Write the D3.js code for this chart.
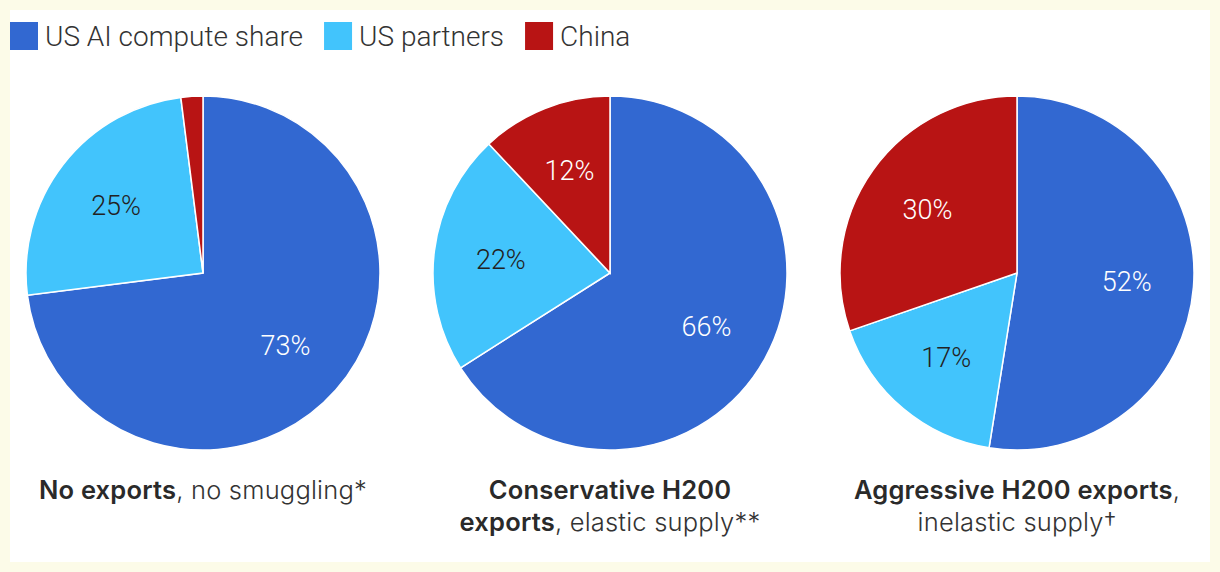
<!DOCTYPE html>
<html>
<head>
<meta charset="utf-8">
<script src="https://cdn.jsdelivr.net/npm/d3@7"></script>
<style>
  html, body { margin: 0; padding: 0; background: #fcfbe8; }
  svg { display: block; }
</style>
</head>
<body>
<svg width="1220" height="572"></svg>
<script>
// series, in drawing order (clockwise from 12 o'clock)
const seriesNames = ["US AI compute share", "US partners", "China"];
const seriesColors = ["#3268d1", "#42c4fc", "#b81414"];

const noExports = [73, 25, 2];
const conservative = [66, 22, 12];
const aggressive = [52, 17, 30];

const captionBold = [["No exports"], ["Conservative H200", "exports"], ["Aggressive H200 exports"]];
const captionRest = [[", no smuggling*"], ["", ", elastic supply**"], [",", "inelastic supply\u2020"]];

const scenarios = [noExports, conservative, aggressive];

const svg = d3.select("svg");
const width = +svg.attr("width");
const height = +svg.attr("height");
const font = "Roboto, 'Liberation Sans', sans-serif";
const capFont = "Inter, Roboto, sans-serif";

// white panel
svg.append("rect")
    .attr("x", 10).attr("y", 10)
    .attr("width", width - 20).attr("height", height - 20)
    .attr("fill", "#fff");

const color = d3.scaleOrdinal().domain(seriesNames).range(seriesColors);

// Legend
const legend = svg.append("g").attr("transform", "translate(10,22)");
let lx = 0;
seriesNames.forEach(name => {
    const g = legend.append("g").attr("transform", `translate(${lx},0)`);
    g.append("rect").attr("width", 28).attr("height", 28).attr("fill", color(name));
    const t = g.append("text")
        .attr("x", 35).attr("y", 24)
        .style("font-family", font)
        .style("font-size", "28px")
        .style("font-weight", 300)
        .attr("fill", "#333")
        .text(name);
    lx += 35 + t.node().getComputedTextLength() + 21;
});

// pie centers
const x = d3.scalePoint().domain([0, 1, 2]).range([203, 1017]);
const cy = 273;
const radius = 177;

const pie = d3.pie().sort(null).value(d => d.value);
const arc = d3.arc().innerRadius(0).outerRadius(radius);
const labelArc = d3.arc().innerRadius(110).outerRadius(110);

scenarios.forEach((vals, i) => {
    const data = vals.map((v, j) => ({ name: seriesNames[j], value: v }));
    const g = svg.append("g").attr("transform", `translate(${x(i)},${cy})`);

    g.selectAll("path")
        .data(pie(data))
        .enter().append("path")
        .attr("d", arc)
        .attr("fill", d => color(d.data.name))
        .attr("stroke", "#fff")
        .attr("stroke-width", 1.5);

    g.selectAll("text")
        .data(pie(data).filter(d => d.data.value >= 5))
        .enter().append("text")
        .attr("transform", d => `translate(${labelArc.centroid(d)})`)
        .attr("text-anchor", "middle")
        .attr("dy", "0.36em")
        .style("font-family", font)
        .style("font-size", "27px")
        .style("font-weight", 300)
        .attr("fill", d => d.data.name === seriesNames[1] ? "#222" : "#fff")
        .text(d => d.data.value + "%");

    // caption lines
    const lines = Math.max(captionBold[i].length, captionRest[i].length);
    for (let k = 0; k < lines; k++) {
        const t = svg.append("text")
            .attr("x", x(i))
            .attr("y", 499 + k * 32)
            .attr("text-anchor", "middle")
            .style("font-family", capFont)
            .style("font-size", "25.5px")
            .style("letter-spacing", "0.2px")
            .attr("fill", "#333");
        if (captionBold[i][k]) {
            t.append("tspan").style("font-weight", 600).attr("fill", "#2a2a2a").text(captionBold[i][k]);
        }
        if (captionRest[i][k]) {
            t.append("tspan").style("font-weight", 300).text(captionRest[i][k]);
        }
    }
});
</script>
</body>
</html>
